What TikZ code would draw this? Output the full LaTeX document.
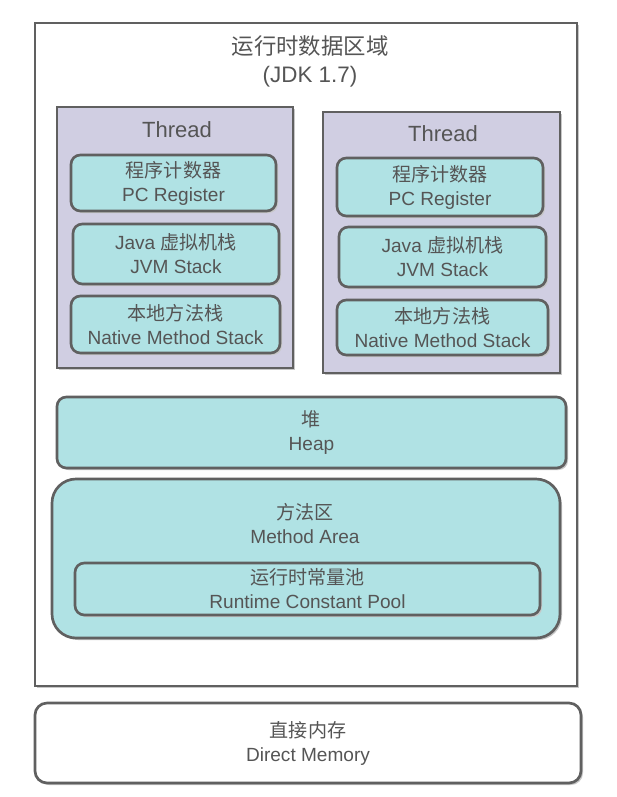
\documentclass[tikz,border=0pt]{standalone}
\usepackage{fontspec}
\setmainfont{Liberation Sans}
\newfontfamily\cjk{Noto Sans CJK SC}
\usepackage{tikz}
\usetikzlibrary{shadows}

\definecolor{edge}{RGB}{96,96,96}
\definecolor{ink}{RGB}{85,85,85}
\definecolor{teal}{RGB}{176,226,228}
\definecolor{lilac}{RGB}{208,206,226}

\begin{document}
\begin{tikzpicture}[x = 0.75pt, y = -0.75pt, line width = 2pt,
                    area/.style = {draw = edge, inner sep = 0pt,
                                   drop shadow = {shadow xshift = 1.5pt, shadow yshift = -1.5pt, fill = black!22, opacity = 1}},
                    thread/.style = {area, fill = lilac},
                    cell/.style = {area, fill = teal, rounded corners = 7pt},
                    label/.style = {text = ink, align = center, font = \fontsize{14.3}{18}\selectfont}]
      \useasboundingbox (0, 0) rectangle (617, 797);
      % runtime data area
      \node [area, fill = white, minimum width = 406.5pt, minimum height = 497.25pt] (rda) at (306, 354.5) {};
      \node [label, font = \fontsize{16.8}{21}\selectfont] (title) at (310, 61) {{\cjk 运行时数据区域}\\(JDK 1.7)};
      % threads
      \node [thread, minimum width = 177pt, minimum height = 195.75pt] (t1) at (175, 237.5) {};
      \node [thread, minimum width = 177.75pt, minimum height = 195.75pt] (t2) at (441.5, 242.5) {};
      \node [label, font = \fontsize{16.5}{20}\selectfont] (t1name) at (177, 130) {Thread};
      \node [label, font = \fontsize{16.5}{20}\selectfont] (t2name) at (443, 134) {Thread};
      \node [cell, minimum width = 153.75pt, minimum height = 42pt] (pc1) at (173.5, 183) {};
      \node [cell, minimum width = 154.5pt, minimum height = 45pt] (jvm1) at (176, 254) {};
      \node [cell, minimum width = 156.75pt, minimum height = 42.75pt] (nat1) at (175.5, 324.5) {};
      \node [cell, minimum width = 154.5pt, minimum height = 43.5pt] (pc2) at (440, 187) {};
      \node [cell, minimum width = 155.25pt, minimum height = 45pt] (jvm2) at (442.5, 257) {};
      \node [cell, minimum width = 158.25pt, minimum height = 41.25pt] (nat2) at (442.5, 327.5) {};
      \node [label] at (pc1) {{\cjk 程序计数器}\\PC Register};
      \node [label] at (jvm1) {Java {\cjk 虚拟机栈}\\JVM Stack};
      \node [label] at (nat1) {{\cjk 本地方法栈}\\Native Method Stack};
      \node [label] at (pc2) {{\cjk 程序计数器}\\PC Register};
      \node [label] at (jvm2) {Java {\cjk 虚拟机栈}\\JVM Stack};
      \node [label] at (nat2) {{\cjk 本地方法栈}\\Native Method Stack};
      % shared areas
      \node [cell, minimum width = 381.75pt, minimum height = 53.25pt] (heap) at (311.5, 432.5) {};
      \node [label] at (heap) {{\cjk 堆}\\Heap};
      \node [cell, rounded corners = 18pt, minimum width = 381pt, minimum height = 119.25pt] (method) at (306, 558.5) {};
      \node [label] (methodname) at (305, 524) {{\cjk 方法区}\\Method Area};
      \node [cell, minimum width = 348.75pt, minimum height = 39pt] (pool) at (307.5, 589) {};
      \node [label] at (pool) {{\cjk 运行时常量池}\\Runtime Constant Pool};
      % outside the runtime data area
      \node [cell, fill = white, rounded corners = 9pt, minimum width = 409.5pt, minimum height = 60pt] (direct) at (308, 743) {};
      \node [label] at (direct) {{\cjk 直接内存}\\Direct Memory};
    \end{tikzpicture}
\end{document}
